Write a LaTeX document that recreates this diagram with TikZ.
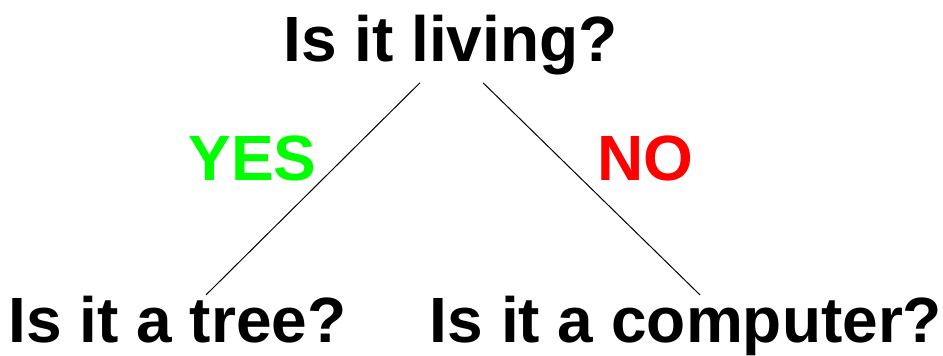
\documentclass[tikz,border=0pt]{standalone}
\usepackage{fontspec}
\setmainfont{Liberation Sans}
\usepackage{xcolor}
\usepackage{tikz}
\usetikzlibrary{positioning,calc}

\definecolor{yesgreen}{RGB}{0,255,0}
\definecolor{nored}{RGB}{255,0,0}

\begin{document}
\begin{tikzpicture}[x=1pt, y=1pt, every node/.style={inner sep=0pt, anchor=base, font=\fontsize{64}{64}\selectfont\bfseries}, question/.style={text=black}, answer/.style={}]
  \useasboundingbox (0,0) rectangle (943,356);
  \node[question] (living) at (450.5,294) {Is it living?};
  \node[question] (tree) at (177.5,13.5) {Is it a tree?};
  \node[question] (computer) at (686,13.5) {Is it a computer?};
  \node[answer, text=yesgreen] (yes) at (252.5,175) {YES};
  \node[answer, text=nored] (no) at (645,175) {NO};

  \draw[line width=1pt] ([xshift=-30.5pt, yshift=-7pt]living.south) -- ([xshift=28.5pt, yshift=1pt]tree.north);
  \draw[line width=1pt] ([xshift=32.5pt, yshift=-7pt]living.south) -- ([xshift=14pt, yshift=1pt]computer.north);
\end{tikzpicture}
\end{document}
